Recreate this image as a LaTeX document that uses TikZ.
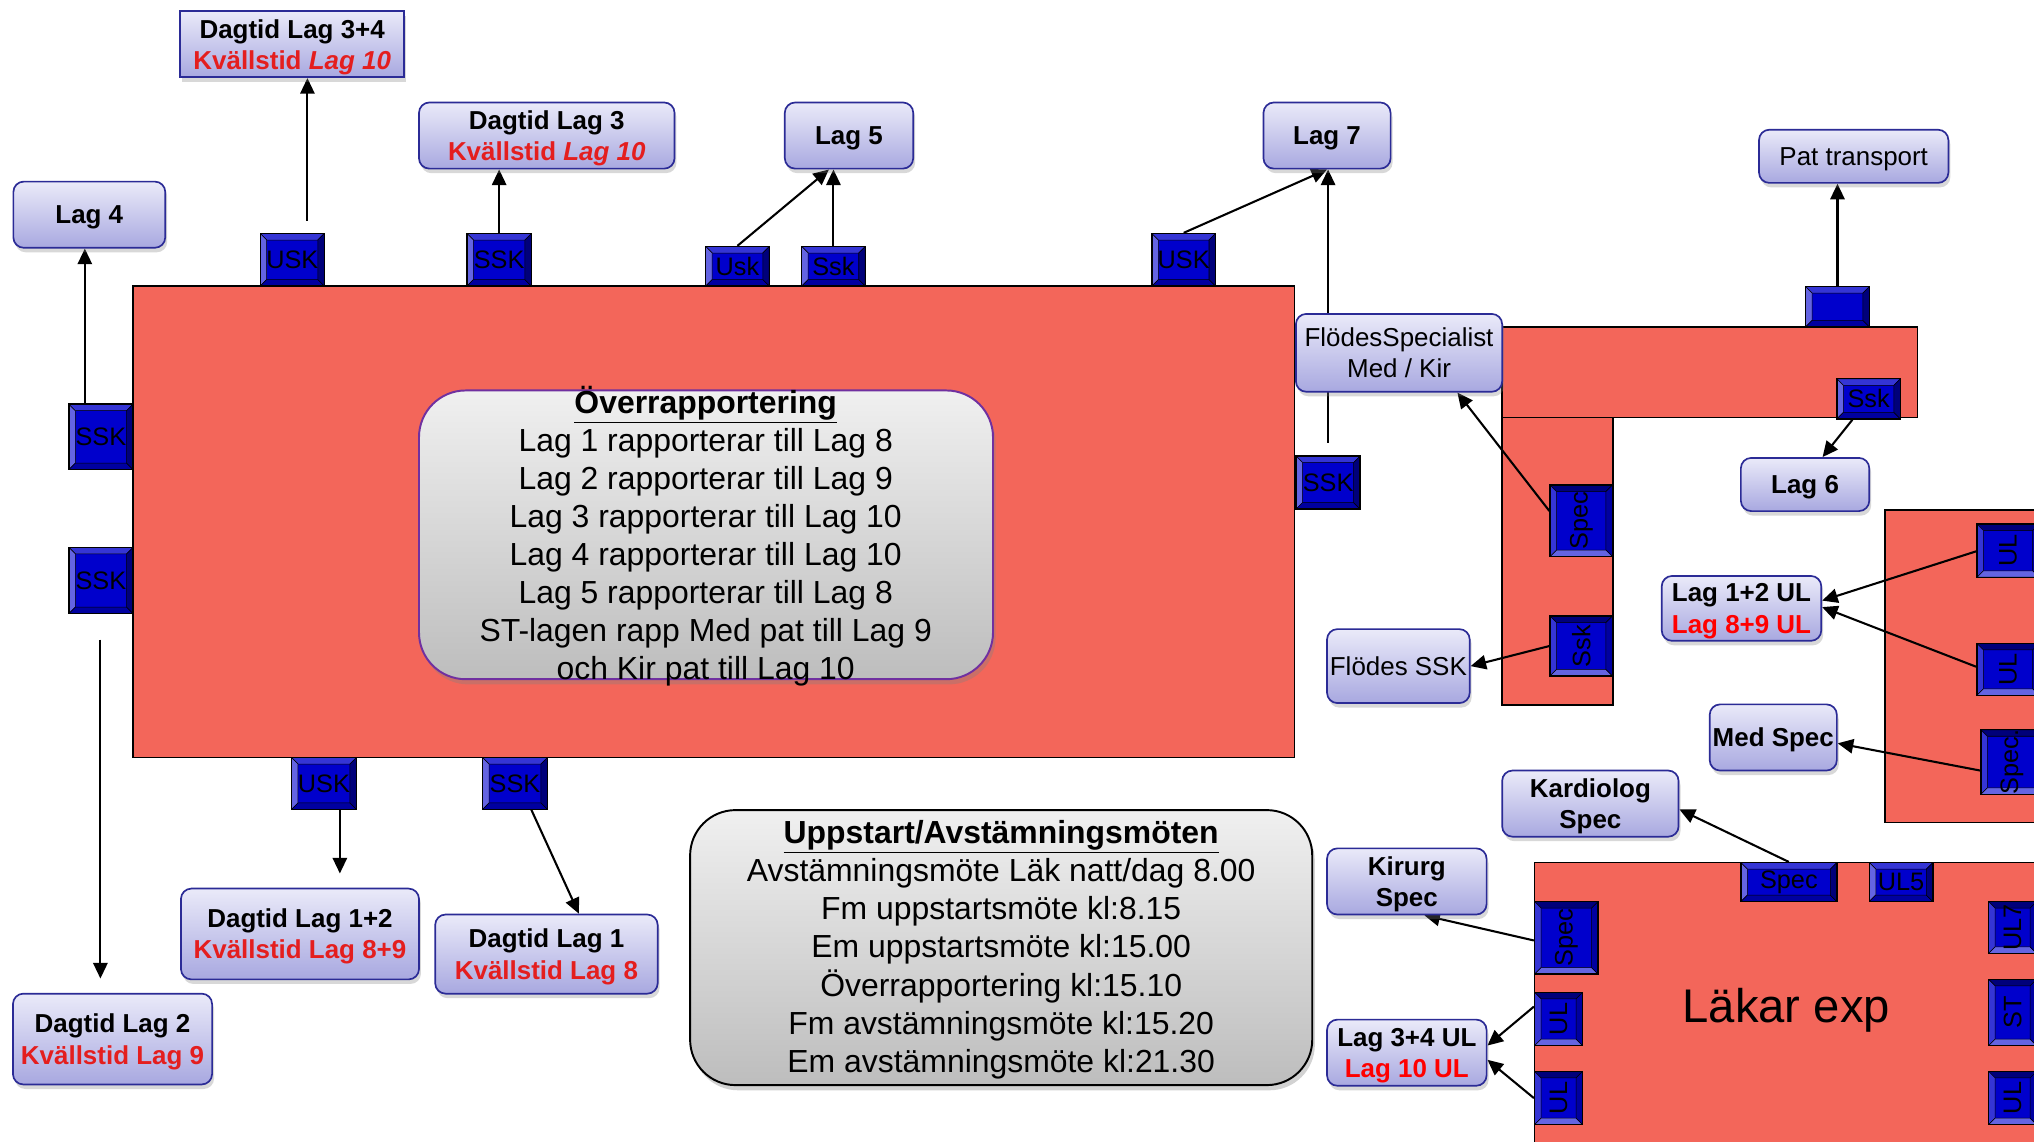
\documentclass[tikz,border=0pt]{standalone}
\usepackage{fontspec}
\setmainfont{Liberation Sans}
\usetikzlibrary{arrows.meta,shadows,calc}

\definecolor{redfill}{HTML}{F3665A}
\definecolor{lavtop}{HTML}{EAEAF9}
\definecolor{lavbot}{HTML}{A8A8E0}
\definecolor{lavedge}{HTML}{2B2B96}
\definecolor{kred}{HTML}{E41E1E}
\definecolor{ulred}{HTML}{FF0000}
\definecolor{bvface}{HTML}{0000CC}
\definecolor{bvA}{HTML}{3535D5}
\definecolor{bvB}{HTML}{6464E2}
\definecolor{bvC}{HTML}{0000A0}
\definecolor{bvD}{HTML}{00007A}
\definecolor{ovedge}{HTML}{7030A0}
\definecolor{grtop}{HTML}{F0F0F0}
\definecolor{grbot}{HTML}{BDBDBD}

\pgfdeclarelayer{base}
\pgfdeclarelayer{lines}
\pgfsetlayers{base,lines,main}

\tikzset{
  bevel/.style n args={4}{path picture={
    \fill[#1,draw=black,line width=0.4pt] (path picture bounding box.north west) -- (path picture bounding box.north east)
      -- ([shift={(-5pt,-5pt)}]path picture bounding box.north east) -- ([shift={(5pt,-5pt)}]path picture bounding box.north west) -- cycle;
    \fill[#2,draw=black,line width=0.4pt] (path picture bounding box.north west) -- ([shift={(5pt,-5pt)}]path picture bounding box.north west)
      -- ([shift={(5pt,5pt)}]path picture bounding box.south west) -- (path picture bounding box.south west) -- cycle;
    \fill[#3,draw=black,line width=0.4pt] (path picture bounding box.south west) -- (path picture bounding box.south east)
      -- ([shift={(-5pt,5pt)}]path picture bounding box.south east) -- ([shift={(5pt,5pt)}]path picture bounding box.south west) -- cycle;
    \fill[#4,draw=black,line width=0.4pt] (path picture bounding box.north east) -- (path picture bounding box.south east)
      -- ([shift={(-5pt,5pt)}]path picture bounding box.south east) -- ([shift={(-5pt,-5pt)}]path picture bounding box.north east) -- cycle;
  }},
  btnbase/.style={draw=black, line width=1.1pt, fill=bvface, inner sep=0pt,
    font=\fontsize{19.5}{21}\selectfont, text=black},
  btnh/.style={btnbase, bevel={bvA}{bvB}{bvC}{bvD}},
  btnv/.style={btnbase, bevel={bvD}{bvA}{bvB}{bvC}},
  lav/.style={draw=lavedge, line width=1.3pt, top color=lavtop, bottom color=lavbot,
    rounded corners=8pt, inner sep=0pt, align=center, text depth=0pt,
    font=\fontsize{20}{24}\selectfont,
    drop shadow={shadow xshift=1.5pt, shadow yshift=-3.5pt, opacity=0.3}},
  grbox/.style={line width=1.5pt, top color=grtop, bottom color=grbot, rounded corners=36pt,
    drop shadow={shadow xshift=2pt, shadow yshift=-4pt, opacity=0.35}},
  room/.style={fill=redfill, draw=black, line width=1.1pt},
  arr/.style={draw=black, line width=1.6pt, -{Triangle[length=12pt,width=11pt]}},
  bodytxt/.style={anchor=base, inner sep=0pt, font=\fontsize{24.6}{29.5}\selectfont},
}

\begin{document}
\begin{tikzpicture}[x=1pt,y=-1pt]
\useasboundingbox (0,0) rectangle (1568,880);

% white page and rooms
\begin{pgfonlayer}{base}
\fill[white] (0,0) rectangle (1568,880);
\draw[room] (102.5,220.5) rectangle (998,584);
\draw[room] (1158,252) rectangle (1478,322);
\draw[room] (1158,322) rectangle (1243.5,543.5);
\draw[room] (1453,393) rectangle (1590,634);
\draw[room] (1183,665) rectangle (1590,900);
\end{pgfonlayer}

% staff buttons, main room
\node[btnh, minimum width=49.4pt, minimum height=40.5pt] (t1) at (225.3,200.3) {USK};
\node[btnh, minimum width=49.6pt, minimum height=40.5pt] (t2) at (384.8,200.3) {SSK};
\node[btnh, minimum width=49pt, minimum height=30.5pt] (t3) at (568.5,205.3) {Usk};
\node[btnh, minimum width=49pt, minimum height=30.5pt] (t4) at (642.5,205.3) {Ssk};
\node[btnh, minimum width=49pt, minimum height=40.5pt] (t5) at (912.5,200.3) {USK};
\node[btnh, minimum width=49.5pt, minimum height=50.4pt] (l1) at (77.8,336.8) {SSK};
\node[btnh, minimum width=49.5pt, minimum height=51pt] (l2) at (77.8,447.5) {SSK};
\node[btnh, minimum width=49.5pt, minimum height=41pt] (r1) at (1023.8,372) {SSK};
\node[btnh, minimum width=50pt, minimum height=40pt] (b1) at (249.7,604) {USK};
\node[btnh, minimum width=50pt, minimum height=40pt] (b2) at (397,604) {SSK};

% staff buttons, corridor
\node[btnh, minimum width=49pt, minimum height=31pt] (pt) at (1416.5,236.5) {};
\node[btnh, minimum width=49pt, minimum height=31pt] (s6) at (1440.5,307.5) {Ssk};
\node[btnv, minimum width=48pt, minimum height=55pt] (sp1) at (1219,401.5) {\rotatebox{90}{Spec}};
\node[btnv, minimum width=48pt, minimum height=46pt] (sk1) at (1219,498) {\rotatebox{90}{Ssk}};

% staff buttons, right room
\node[btnv, minimum width=48pt, minimum height=41pt] (u1) at (1548,424.5) {\rotatebox{90}{UL}};
\node[btnv, minimum width=48pt, minimum height=40pt] (u2) at (1548,516) {\rotatebox{90}{UL}};
\node[btnv, minimum width=48pt, minimum height=49pt] (sp2) at (1551,587.5) {\rotatebox{90}{Spec.}};

% staff buttons, Läkar exp
\node[btnh, minimum width=74pt, minimum height=30pt] (sp3) at (1379,680) {Spec};
\node[btnh, minimum width=49pt, minimum height=30pt] (u5) at (1465.5,680) {UL5};
\node[btnv, minimum width=49pt, minimum height=56pt] (sp4) at (1207.5,723) {\rotatebox{90}{Spec}};
\node[btnv, minimum width=37pt, minimum height=41pt] (ul1) at (1201.5,785.5) {\rotatebox{90}{UL}};
\node[btnv, minimum width=37pt, minimum height=41pt] (ul2) at (1201.5,846.5) {\rotatebox{90}{UL}};
\node[btnv, minimum width=37pt, minimum height=40pt] (u7) at (1551.5,715) {\rotatebox{90}{UL7}};
\node[btnv, minimum width=37pt, minimum height=51pt] (st) at (1551.5,780.5) {\rotatebox{90}{ST}};
\node[btnv, minimum width=37pt, minimum height=41pt] (u8) at (1551.5,846.5) {\rotatebox{90}{UL}};

\node[anchor=base, inner sep=0pt, font=\fontsize{36.4}{40}\selectfont] (lx) at (1377,788) {Läkar exp};

% team boxes
\node[lav, sharp corners, minimum width=172.5pt, minimum height=51pt] (DL34) at (225.25,34.05)
  {\textbf{Dagtid Lag 3+4}\\\textcolor{kred}{\textbf{Kvällstid \textit{Lag 10}}}};
\node[lav, minimum width=197pt, minimum height=51pt] (DL3) at (421.5,104.5)
  {\textbf{Dagtid Lag 3}\\\textcolor{kred}{\textbf{Kvällstid \textit{Lag 10}}}};
\node[lav, minimum width=99pt, minimum height=51pt] (L5) at (654.5,104.5) {\textbf{Lag 5}};
\node[lav, minimum width=98pt, minimum height=51pt] (L7) at (1023,104.5) {\textbf{Lag 7}};
\node[lav, minimum width=117.1pt, minimum height=51pt] (L4) at (68.85,165.5) {\textbf{Lag 4}};
\node[lav, minimum width=146pt, minimum height=41pt] (PT) at (1429,120.5) {Pat transport};
\node[lav, minimum width=99pt, minimum height=41pt] (L6) at (1391.5,373.5) {\textbf{Lag 6}};
\node[lav, minimum width=123pt, minimum height=50pt] (L12UL) at (1342.5,469)
  {\textbf{Lag 1+2 UL}\\\textcolor{ulred}{\textbf{Lag 8+9 UL}}};
\node[lav, minimum width=110pt, minimum height=57pt] (FSSK) at (1078,513.5) {Flödes SSK};
\node[lav, minimum width=98pt, minimum height=51pt] (MS) at (1367,568.5) {\textbf{Med Spec}};
\node[lav, minimum width=136pt, minimum height=51pt] (KS) at (1226,619.5) {\textbf{Kardiolog}\\\textbf{Spec}};
\node[lav, minimum width=123pt, minimum height=51pt] (KiS) at (1084.5,679.5) {\textbf{Kirurg}\\\textbf{Spec}};
\node[lav, minimum width=123pt, minimum height=51pt] (L34) at (1084.5,811.5)
  {\textbf{Lag 3+4 UL}\\\textcolor{ulred}{\textbf{Lag 10 UL}}};
\node[lav, minimum width=183.5pt, minimum height=70pt] (DL12) at (231.25,720)
  {\textbf{Dagtid Lag 1+2}\\\textcolor{kred}{\textbf{Kvällstid Lag 8+9}}};
\node[lav, minimum width=171.5pt, minimum height=61pt] (DL1) at (421.25,735.5)
  {\textbf{Dagtid Lag 1}\\\textcolor{kred}{\textbf{Kvällstid Lag 8}}};
\node[lav, minimum width=153.5pt, minimum height=70pt] (DL2) at (86.75,801)
  {\textbf{Dagtid Lag 2}\\\textcolor{kred}{\textbf{Kvällstid Lag 9}}};
\node[lav, minimum width=159pt, minimum height=60pt] (FS) at (1078.5,272) {FlödesSpecialist\\Med / Kir};

% connectors (drawn under the boxes)
\begin{pgfonlayer}{lines}
\coordinate (c1) at (237,170);
\draw[arr] (c1) -- (c1 |- DL34.south);
\draw[arr] (t2.north) -- (t2.north |- DL3.south);
\draw[arr] (t3.north) -- ([xshift=-15.5pt]L5.south);
\draw[arr] (t4.north) -- (t4.north |- L5.south);
\draw[arr] (t5.north) -- (L7.south);
\coordinate (c2) at (1023.8,341.5);
\draw[arr] (c2) -- (c2 |- L7.south);
\coordinate (c3) at (65.4,311.6);
\draw[arr] (c3) -- (c3 |- L4.south);
\coordinate (c4) at (77.4,493);
\draw[arr] (c4) -- ([yshift=11pt]c4 |- DL2.north);
\coordinate (c5) at (262,624);
\draw[arr] (c5) -- ([yshift=11pt]c5 |- DL12.north);
\coordinate (c6) at (409.5,624);
\draw[arr] (c6) -- ([xshift=25pt]DL1.north);
\draw[arr] (pt.north) -- (pt.north |- PT.south);
\draw[arr] ([xshift=-12.5pt]s6.south) -- ([xshift=13.5pt]L6.north);
\draw[arr] ([yshift=7.5pt]sp1.west) -- ([xshift=45pt]FS.south);
\draw[arr] (sk1.west) -- (FSSK.east);
\draw[arr] ([yshift=-0.5pt]u1.west) -- ([yshift=6pt]L12UL.east);
\draw[arr] ([yshift=2pt]u2.west) -- ([yshift=1pt]L12UL.east);
\draw[arr] ([yshift=-6.5pt]sp2.west) -- ([yshift=-4.5pt]MS.east);
\draw[arr] (sp3.north) -- ([yshift=-4.5pt]KS.east);
\draw[arr] ([yshift=-2pt]sp4.west) -- ([xshift=13.5pt]KiS.south);
\draw[arr] ([yshift=9.5pt]ul1.west) -- ([yshift=5.5pt]L34.east);
\draw[arr] (ul2.west) -- ([yshift=-5.5pt]L34.east);
\end{pgfonlayer}

% hand-over box
\node[grbox, draw=ovedge, minimum width=442.5pt, minimum height=222.6pt] (OV) at (544.25,412.3) {};
\node[bodytxt] (ov0) at (544,318.6) {\textbf{\underline{Överrapportering}}};
\foreach \t [count=\i] in {Lag 1 rapporterar till Lag 8, Lag 2 rapporterar till Lag 9,
  Lag 3 rapporterar till Lag 10, Lag 4 rapporterar till Lag 10, Lag 5 rapporterar till Lag 8,
  ST-lagen rapp Med pat till Lag 9, och Kir pat till Lag 10}
  \node[bodytxt] (ov\i) at (544,{318.6+29.35*\i}) {\t};

% meeting box
\node[grbox, draw=black, rounded corners=35pt, minimum width=479.6pt, minimum height=212pt] (UP) at (771.8,730.5) {};
\node[bodytxt] (up0) at (771.8,650) {\textbf{\underline{Uppstart/Avstämningsmöten}}};
\foreach \t [count=\i] in {Avstämningsmöte Läk natt/dag 8.00, Fm uppstartsmöte kl:8.15,
  Em uppstartsmöte kl:15.00, Överrapportering kl:15.10, Fm avstämningsmöte kl:15.20,
  Em avstämningsmöte kl:21.30}
  \node[bodytxt] (up\i) at (771.8,{650+29.5*\i}) {\t};
\end{tikzpicture}
\end{document}
